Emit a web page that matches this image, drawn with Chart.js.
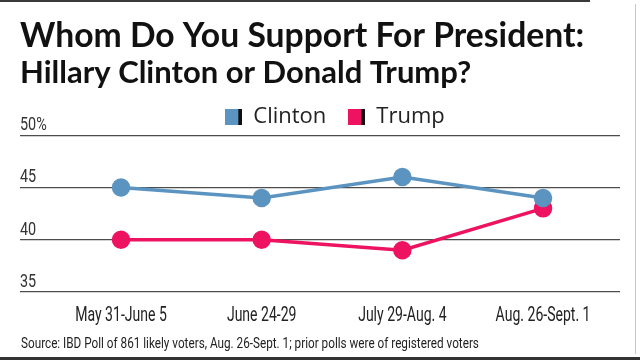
<!DOCTYPE html>
<html>
<head>
<meta charset="utf-8">
<script src="https://cdn.jsdelivr.net/npm/chart.js@4.4.0/dist/chart.umd.min.js"></script>
<style>
  html, body { margin: 0; padding: 0; background: #fff; }
  #wrap { position: relative; width: 640px; height: 360px; overflow: hidden; }
  #frameTop { position: absolute; left: 0; top: 0; width: 590px; height: 2px; background: #3a3a3a; }
  #frameBottom { position: absolute; left: 0; bottom: 0; width: 640px; height: 3px; background: #333; }
  #frameRight { position: absolute; left: 635px; top: 4px; width: 1px; height: 350px; background: #c8c8c8; }
  #source { position: absolute; left: 21px; top: 334px; white-space: nowrap;
            font: 15.5px Roboto, sans-serif; color: #222;
            transform: scaleX(0.757); transform-origin: left top; }
</style>
</head>
<body>
<div id="wrap">
  <canvas id="myChart" width="640" height="360"></canvas>
  <div id="frameTop"></div>
  <div id="frameRight"></div>
  <div id="frameBottom"></div>
  <div id="source">Source: IBD Poll of 861 likely voters, Aug. 26-Sept. 1; prior polls were of registered voters</div>
</div>
<script>
// dados do grafico
const periods = ['May 31-June 5', 'June 24-29', 'July 29-Aug. 4', 'Aug. 26-Sept. 1'];
const clinton = [45, 44, 46, 44];
const trump = [40, 40, 39, 43];
const yTicks = [35, 40, 45, 50];

const blue = '#5b94c0';
const pink = '#ee1360';

// quadradinho da legenda com a barra preta do lado
function legendBox(color) {
    const c = document.createElement('canvas');
    c.width = 17;
    c.height = 16;
    const g = c.getContext('2d');
    g.fillStyle = color;
    g.fillRect(0, 0, 13, 16);
    g.fillStyle = '#111';
    g.fillRect(13, 0, 4, 16);
    return c;
}

// texto estreito (fonte condensada nao existe aqui)
function narrowText(ctx, text, x, y, sx) {
    ctx.save();
    ctx.translate(x, y);
    ctx.scale(sx, 1);
    ctx.fillText(text, 0, 0);
    ctx.restore();
}

// rotulos dos eixos desenhados a partir das escalas
const axisLabels = {
    id: 'axisLabels',
    afterLayout(chart) {
        // legenda um pouco para a direita e para baixo, como no original
        chart.legend.left += 15;
        chart.legend.right += 15;
        chart.legend.top += 3;
        chart.legend.bottom += 3;
    },
    afterDraw(chart) {
        const { ctx, scales: { x, y } } = chart;
        ctx.save();
        ctx.textBaseline = 'alphabetic';

        ctx.fillStyle = '#222';
        ctx.font = '19.5px Roboto';
        ctx.textAlign = 'center';
        x.ticks.forEach(t => {
            narrowText(ctx, periods[t.value], x.getPixelForValue(t.value), y.bottom + 29, 0.72);
        });

        ctx.fillStyle = '#333';
        ctx.font = '18px Roboto';
        ctx.textAlign = 'left';
        y.ticks.forEach(t => {
            const txt = t.value === 50 ? t.value + '%' : String(t.value);
            narrowText(ctx, txt, chart.chartArea.left, y.getPixelForValue(t.value) - 5, 0.8);
        });
        ctx.restore();
    }
};

const ctx = document.getElementById('myChart');

new Chart(ctx, {
    type: 'line',
    data: {
        datasets: [{
            label: 'Clinton',
            data: clinton.map((v, i) => ({ x: i, y: v })),
            borderColor: blue,
            backgroundColor: blue,
            borderWidth: 3.5,
            pointRadius: 7.5,
            pointHoverRadius: 7.5
        }, {
            label: 'Trump',
            data: trump.map((v, i) => ({ x: i, y: v })),
            borderColor: pink,
            backgroundColor: pink,
            borderWidth: 3.5,
            pointRadius: 7.5,
            pointHoverRadius: 7.5
        }]
    },
    plugins: [axisLabels],
    options: {
        responsive: false,
        animation: false,
        layout: {
            padding: { left: 20, right: 20, top: 0, bottom: 68 }
        },
        plugins: {
            title: {
                display: true,
                text: 'Whom Do You Support For President:',
                align: 'start',
                color: '#111',
                font: { family: 'Lato', size: 33.7, weight: 'bold', lineHeight: 1 },
                padding: { top: 19.2, bottom: 0 }
            },
            subtitle: {
                display: true,
                text: 'Hillary Clinton or Donald Trump?',
                align: 'start',
                color: '#111',
                font: { family: 'Lato', size: 31, weight: 'bold', lineHeight: 0.3 },
                padding: { top: 15.45, bottom: 3.55 }
            },
            legend: {
                display: true,
                labels: {
                    color: '#222',
                    font: { family: 'Open Sans', size: 22 },
                    usePointStyle: true,
                    pointStyleWidth: 17,
                    padding: 22,
                    generateLabels: chart => chart.data.datasets.map((ds, i) => ({
                        text: ds.label,
                        fillStyle: ds.backgroundColor,
                        strokeStyle: ds.backgroundColor,
                        lineWidth: 0,
                        pointStyle: legendBox(ds.backgroundColor),
                        datasetIndex: i,
                        fontColor: '#222'
                    }))
                }
            },
            tooltip: { enabled: false }
        },
        scales: {
            x: {
                type: 'linear',
                min: -0.718,
                max: 3.547,
                grid: { display: false, drawTicks: false },
                border: { display: false },
                afterBuildTicks: axis => {
                    axis.ticks = periods.map((p, i) => ({ value: i }));
                },
                ticks: { display: false }
            },
            y: {
                min: 35,
                max: 50,
                grid: { color: '#4d4d4d', lineWidth: 1.3, drawTicks: false },
                border: { display: false },
                afterBuildTicks: axis => {
                    axis.ticks = yTicks.map(v => ({ value: v }));
                },
                ticks: { display: false }
            }
        }
    }
});
</script>
</body>
</html>
